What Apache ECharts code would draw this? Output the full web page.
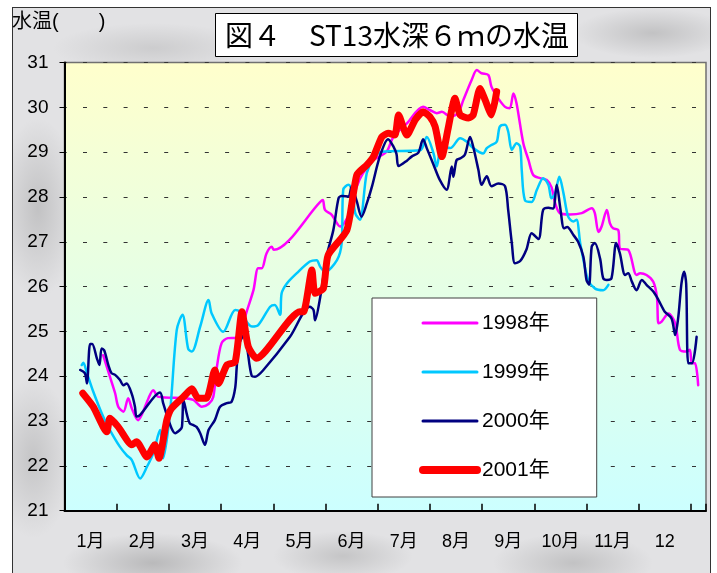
<!DOCTYPE html>
<html>
<head>
<meta charset="utf-8">
<script src="https://cdn.jsdelivr.net/npm/echarts@6/dist/echarts.min.js"></script>
<style>
html,body{margin:0;padding:0;background:#fff;width:717px;height:573px;overflow:hidden;}
#frame{position:absolute;left:12px;top:7px;width:697px;height:600px;border:1.5px solid #333;
background:
 radial-gradient(ellipse 90px 30px at 140px 555px, rgba(110,110,110,0.35), rgba(0,0,0,0)),
 radial-gradient(ellipse 70px 25px at 330px 548px, rgba(130,130,130,0.30), rgba(0,0,0,0)),
 radial-gradient(ellipse 80px 30px at 560px 555px, rgba(120,120,120,0.30), rgba(0,0,0,0)),
 radial-gradient(ellipse 40px 90px at 25px 200px, rgba(120,120,120,0.30), rgba(0,0,0,0)),
 radial-gradient(ellipse 40px 80px at 20px 450px, rgba(130,130,130,0.30), rgba(0,0,0,0)),
 radial-gradient(ellipse 80px 25px at 640px 25px, rgba(120,120,120,0.30), rgba(0,0,0,0)),
 radial-gradient(ellipse 100px 25px at 140px 40px, rgba(140,140,140,0.25), rgba(0,0,0,0)),
 #e2e2e4;}
#chart{position:absolute;left:0;top:0;width:717px;height:573px;}
</style>
</head>
<body>
<div id="frame"></div>
<div id="chart"></div>
<script>
// ---- data (x = months from start of January, y = water temperature °C) ----
const months = ['1月','2月','3月','4月','5月','6月','7月','8月','9月','10月','11月','12'];
const yTicks = [21,22,23,24,25,26,27,28,29,30,31];
const seriesNames = ['1998年','1999年','2000年','2001年'];

const s1998 = [[0.74,24.47],[0.87,23.99],[0.97,23.62],[1.03,23.32],[1.13,23.21],[1.22,23.51],[1.29,23.28],[1.41,23.02],[1.48,23.14],[1.61,23.51],[1.70,23.69],[1.80,23.54],[2.31,23.51],[2.47,23.47],[2.63,23.32],[2.76,23.38],[2.85,23.54],[2.92,24.21],[3.01,24.74],[3.13,24.85],[3.29,24.86],[3.36,24.92],[3.49,25.44],[3.62,25.92],[3.71,26.41],[3.78,26.41],[3.87,26.74],[3.97,26.89],[4.01,26.82],[4.90,27.89],[4.95,27.93],[4.99,27.71],[5.12,27.60],[5.28,27.34],[5.47,27.67],[5.60,28.23],[5.72,28.53],[5.92,28.82],[6.17,29.01],[6.30,29.34],[6.56,29.64],[6.87,30.01],[7.00,29.94],[7.13,29.87],[7.23,29.90],[7.39,29.79],[7.54,29.87],[7.64,30.16],[7.80,30.61],[7.90,30.83],[7.99,30.76],[8.12,30.72],[8.18,30.46],[8.31,30.20],[8.44,30.01],[8.53,29.98],[8.60,30.31],[8.66,30.09],[8.79,29.20],[8.89,28.82],[8.98,28.49],[9.11,28.42],[9.24,28.38],[9.33,28.22],[9.40,27.86],[9.49,27.64],[9.68,27.61],[9.91,27.64],[10.10,27.75],[10.16,27.64],[10.23,27.22],[10.29,27.34],[10.39,27.71],[10.45,27.41],[10.51,27.30],[10.61,27.26],[10.64,26.85],[10.80,26.82],[10.96,26.26],[11.03,26.30],[11.15,26.26],[11.28,26.11],[11.35,25.77],[11.38,25.18],[11.44,25.22],[11.57,25.40],[11.70,25.18],[11.79,24.59],[11.92,24.55],[11.98,24.59],[12.02,24.29],[12.08,24.29],[12.14,23.80]];

const s1999 = [[0.33,24.25],[0.36,24.30],[0.43,24.07],[0.55,23.66],[0.74,23.10],[0.87,22.80],[1.06,22.43],[1.19,22.24],[1.29,22.13],[1.45,21.72],[1.58,21.98],[1.70,22.28],[1.83,22.80],[1.89,22.17],[2.02,23.17],[2.15,25.03],[2.26,25.37],[2.37,24.61],[2.44,24.55],[2.60,25.11],[2.76,25.70],[2.82,25.40],[3.04,24.99],[3.27,25.48],[3.36,25.44],[3.59,25.11],[3.71,25.14],[3.94,25.55],[4.03,25.59],[4.13,25.37],[4.16,25.85],[4.26,26.07],[4.45,26.30],[4.70,26.56],[4.83,26.59],[4.90,26.44],[4.99,26.33],[5.22,26.59],[5.31,26.97],[5.34,28.16],[5.44,28.27],[5.51,28.16],[5.57,27.64],[5.66,27.49],[5.79,28.53],[5.92,28.86],[6.08,29.01],[6.81,29.04],[6.94,29.34],[7.07,28.97],[7.13,28.68],[7.23,29.12],[7.39,29.09],[7.58,29.31],[7.71,29.23],[7.83,29.09],[8.02,28.97],[8.09,29.09],[8.18,29.16],[8.28,29.23],[8.34,29.57],[8.44,29.61],[8.50,29.46],[8.57,29.05],[8.66,29.20],[8.73,29.12],[8.76,28.60],[8.82,27.93],[8.95,27.89],[9.05,28.16],[9.17,28.42],[9.27,28.27],[9.33,27.97],[9.40,28.08],[9.48,28.45],[9.56,28.08],[9.65,27.56],[9.75,27.45],[9.81,27.49],[9.88,26.97],[9.95,26.55],[10.03,26.15],[10.16,25.96],[10.32,25.92],[10.42,26.04]];

const s2000 = [[0.30,24.14],[0.39,24.07],[0.43,23.84],[0.49,24.72],[0.53,24.72],[0.62,24.40],[0.67,24.25],[0.71,24.62],[0.76,24.58],[0.84,24.25],[0.90,24.07],[0.97,24.03],[1.06,23.92],[1.13,23.80],[1.19,23.84],[1.29,23.60],[1.35,23.32],[1.38,23.10],[1.45,23.14],[1.83,23.64],[1.89,23.40],[1.96,23.14],[2.05,22.84],[2.12,22.73],[2.21,22.80],[2.25,22.87],[2.28,23.47],[2.34,23.17],[2.40,22.95],[2.47,22.91],[2.53,22.87],[2.60,22.73],[2.69,22.47],[2.76,22.80],[2.88,23.02],[2.98,23.32],[3.11,23.40],[3.20,23.43],[3.27,23.74],[3.30,24.21],[3.34,24.70],[3.44,24.92],[3.59,24.00],[3.65,23.99],[3.81,24.14],[4.32,24.88],[4.70,25.55],[4.77,25.48],[4.80,25.25],[4.90,25.77],[5.02,26.67],[5.15,27.26],[5.25,27.97],[5.31,28.02],[5.44,28.01],[5.50,28.23],[5.60,27.90],[5.69,27.56],[5.79,27.85],[5.89,28.23],[6.04,28.90],[6.20,29.29],[6.30,29.13],[6.36,28.96],[6.40,28.69],[6.56,28.81],[6.65,28.90],[6.78,28.99],[6.87,29.29],[6.94,29.09],[7.07,28.72],[7.19,28.38],[7.32,28.16],[7.42,28.68],[7.45,28.45],[7.51,28.82],[7.58,28.86],[7.67,28.94],[7.77,29.34],[7.83,29.12],[7.93,28.60],[7.99,28.27],[8.09,28.46],[8.18,28.24],[8.31,28.30],[8.44,28.24],[8.50,27.71],[8.57,26.97],[8.63,26.52],[8.73,26.57],[8.85,26.83],[8.95,27.19],[9.08,27.06],[9.17,27.71],[9.27,27.76],[9.36,27.74],[9.43,28.27],[9.50,27.74],[9.57,27.30],[9.63,27.33],[9.75,27.15],[9.84,27.00],[9.94,26.67],[10.00,26.15],[10.05,26.04],[10.10,26.89],[10.16,26.97],[10.26,26.63],[10.32,26.19],[10.39,26.15],[10.48,26.19],[10.57,26.97],[10.64,26.74],[10.74,26.26],[10.80,26.30],[10.87,26.11],[10.96,25.92],[11.06,26.15],[11.15,26.04],[11.28,25.89],[11.38,25.70],[11.50,25.44],[11.63,25.29],[11.70,24.92],[11.76,25.33],[11.82,26.07],[11.87,26.33],[11.91,26.07],[11.95,24.29],[12.02,24.29],[12.11,24.88]];

const s2001 = [[0.35,23.62],[0.55,23.32],[0.81,22.76],[0.87,23.06],[1.03,22.87],[1.29,22.47],[1.38,22.54],[1.58,22.20],[1.73,22.47],[1.81,22.17],[1.96,23.02],[2.05,23.28],[2.28,23.54],[2.44,23.72],[2.56,23.51],[2.72,23.51],[2.88,24.14],[2.95,23.84],[3.11,24.25],[3.27,24.32],[3.40,25.44],[3.52,24.66],[3.68,24.40],[4.51,25.44],[4.58,25.44],[4.74,26.37],[4.80,25.85],[4.96,25.96],[5.05,26.70],[5.41,27.26],[5.60,28.49],[5.79,28.71],[5.92,28.90],[6.08,29.34],[6.20,29.42],[6.33,29.38],[6.40,29.83],[6.56,29.38],[6.72,29.72],[6.87,29.90],[7.00,29.79],[7.10,29.57],[7.23,28.90],[7.35,29.53],[7.48,30.20],[7.58,29.83],[7.74,29.76],[7.83,29.83],[7.96,30.42],[8.06,30.16],[8.18,29.83],[8.28,30.35]];

// ---- chart ----
const FONT = '"Liberation Sans", Arial, "Noto Sans CJK JP", sans-serif';
const chart = echarts.init(document.getElementById('chart'), null, {renderer: 'canvas'});

const colors = ['#FF00FF', '#00C8FF', '#000080', '#FF0000'];
const widths = [2.5, 2.5, 2.5, 7];
const dataSets = [s1998, s1999, s2000, s2001];

const option = {
  backgroundColor: 'transparent',
  animation: false,
  title: [
    {
      text: '図４　ST13水深６ｍの水温',
      left: 215, top: 13,
      padding: [8, 9, 8, 10],
      backgroundColor: '#ffffff',
      borderColor: '#000000',
      borderWidth: 1,
      textStyle: {fontFamily: '"Noto Sans CJK JP", sans-serif', fontSize: 28, fontWeight: 'normal', color: '#000', lineHeight: 28}
    },
    {
      text: '水温(\u3000\u3000)',
      left: 12, top: 12, padding: 0,
      textStyle: {fontFamily: FONT, fontSize: 20, fontWeight: 'normal', color: '#000'}
    }
  ],
  legend: {
    orient: 'vertical',
    left: 372, top: 298,
    itemWidth: 54, itemHeight: 14, itemGap: 27,
    padding: [14, 47, 16, 47],
    backgroundColor: '#ffffff',
    borderColor: '#404040',
    borderWidth: 1,
    itemStyle: {color: 'rgba(0,0,0,0)', borderWidth: 0, opacity: 0},
    textStyle: {fontFamily: FONT, fontSize: 21, lineHeight: 22, color: '#000'},
    data: seriesNames.map((n, i) => ({
      name: n,
      itemStyle: {color: 'rgba(0,0,0,0)', borderWidth: 0, opacity: 0},
      lineStyle: {color: colors[i], width: i === 3 ? 8 : 3, cap: 'round', opacity: 1}
    }))
  },
  grid: [
    {left: 64.5, top: 62.5, width: 641.5, height: 448.2, show: true,
     borderColor: '#707070', borderWidth: 1.5,
     backgroundColor: {type: 'linear', x: 0, y: 0, x2: 0, y2: 1,
       colorStops: [{offset: 0, color: '#FFFFCC'}, {offset: 1, color: '#CCFFFF'}]}},
    {left: 64.5, top: 62.5, width: 626.4, height: 448.2, show: false}
  ],
  xAxis: [
    {gridIndex: 0, type: 'value', min: 0, max: 12.29, interval: 1,
     axisLine: {show: true, lineStyle: {color: '#000', width: 2}},
     axisTick: {show: true, inside: true, length: 7, lineStyle: {color: '#000', width: 1.5}},
     axisLabel: {show: false}, splitLine: {show: false}},
    {gridIndex: 1, type: 'category', data: months, boundaryGap: true, position: 'bottom',
     axisLine: {show: false}, axisTick: {show: false}, splitLine: {show: false},
     axisLabel: {fontFamily: FONT, fontSize: 18, color: '#000', margin: 22, interval: 0}}
  ],
  yAxis: [
    {gridIndex: 0, type: 'value', min: yTicks[0], max: yTicks[yTicks.length - 1], interval: 1,
     axisLine: {show: true, lineStyle: {color: '#000', width: 2}},
     axisTick: {show: true, inside: false, length: 5, lineStyle: {color: '#000', width: 1}},
     axisLabel: {fontFamily: FONT, fontSize: 19, color: '#000', margin: 16},
     splitLine: {show: true, lineStyle: {color: '#333', width: 1, type: [4, 16.3], dashOffset: 1.8}}},
    {gridIndex: 1, type: 'value', min: 21, max: 31, show: false, splitLine: {show: false}}
  ],
  series: seriesNames.map((name, i) => ({
    name: name,
    type: 'line',
    xAxisIndex: 0, yAxisIndex: 0,
    data: dataSets[i],
    symbol: 'none',
    showSymbol: false,
    smooth: i === 3 ? 0.2 : 0.3,
    color: colors[i],
    lineStyle: {color: colors[i], width: widths[i], cap: 'round', join: 'round'},
    z: 2 + i
  }))
};
chart.setOption(option);
</script>
</body>
</html>
